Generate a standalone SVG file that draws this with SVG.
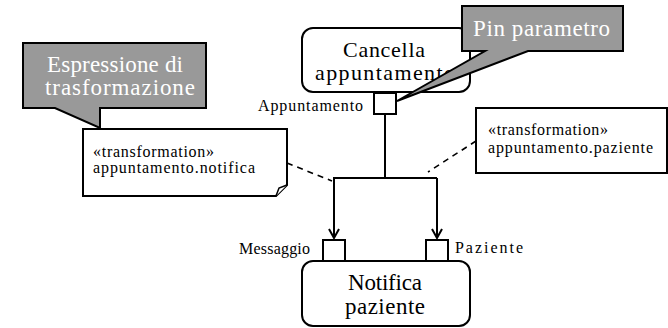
<svg xmlns="http://www.w3.org/2000/svg" width="668" height="328" viewBox="0 0 668 328">
  <defs>
    <style>
      .shape { fill: #ffffff; stroke: #000000; stroke-width: 2; }
      .callout { fill: #999999; stroke: #000000; stroke-width: 2; stroke-linejoin: miter; }
      .flow { fill: none; stroke: #000000; stroke-width: 2; }
      .dash { fill: none; stroke: #000000; stroke-width: 1.6; stroke-dasharray: 6 5; }
      text { font-family: "Liberation Serif", "DejaVu Serif", serif; }
      .big { font-size: 22px; fill: #000000; text-anchor: middle; }
      .callout-text { font-size: 23px; fill: #ffffff; }
      .note-text { font-size: 16px; fill: #000000; }
      .pin-label { font-size: 16px; fill: #000000; }
    </style>
    <marker id="open-arrow" markerWidth="12" markerHeight="12" refX="10" refY="6" orient="auto" markerUnits="userSpaceOnUse">
      <path d="M1,1 L10,6 L1,11" fill="none" stroke="#000000" stroke-width="2"/>
    </marker>
  </defs>

  <!-- action: Cancella appuntamento -->
  <g id="cancella-appuntamento">
    <rect class="shape" x="302" y="28" width="168" height="64" rx="11" ry="11"/>
    <text class="big" x="384" y="57" textLength="82" lengthAdjust="spacing">Cancella</text>
    <text class="big" x="385" y="80" textLength="140" lengthAdjust="spacing">appuntamento</text>
  </g>

  <!-- output pin of Cancella appuntamento -->
  <g id="pin-appuntamento">
    <rect class="shape" x="374" y="93" width="22" height="21"/>
    <text class="pin-label" x="258" y="111" textLength="105" lengthAdjust="spacing">Appuntamento</text>
  </g>

  <!-- action: Notifica paziente -->
  <g id="notifica-paziente">
    <rect class="shape" x="302" y="261" width="168" height="65" rx="11" ry="11"/>
    <text class="big" x="385" y="290" style="font-size:23px" textLength="74" lengthAdjust="spacing">Notifica</text>
    <text class="big" x="385" y="314" style="font-size:23px" textLength="80" lengthAdjust="spacing">paziente</text>
  </g>

  <!-- input pins of Notifica paziente -->
  <g id="pin-messaggio">
    <rect class="shape" x="323" y="240" width="22" height="21"/>
    <text class="pin-label" x="239" y="254" textLength="71" lengthAdjust="spacing">Messaggio</text>
  </g>
  <g id="pin-paziente">
    <rect class="shape" x="426" y="240" width="22" height="21"/>
    <text class="pin-label" x="455" y="253" textLength="68" lengthAdjust="spacing">Paziente</text>
  </g>

  <!-- transformation notes -->
  <g id="note-notifica">
    <path class="shape" d="M83,129 H287 V185 L276,196 H83 Z"/>
    <path class="shape" d="M276,196 L279,188 L287,185" style="stroke-width:1.5"/>
    <text class="note-text" x="93" y="157" textLength="121" lengthAdjust="spacing">«transformation»</text>
    <text class="note-text" x="93" y="173" textLength="162" lengthAdjust="spacing">appuntamento.notifica</text>
  </g>
  <g id="note-paziente">
    <rect class="shape" x="476" y="108" width="191" height="65"/>
    <text class="note-text" x="488" y="135" textLength="120" lengthAdjust="spacing">«transformation»</text>
    <text class="note-text" x="488" y="153" textLength="165" lengthAdjust="spacing">appuntamento.paziente</text>
  </g>

  <!-- object flows and note anchors -->
  <g id="connectors">
    <path class="flow" d="M385,114 V178"/>
    <path class="flow" d="M333,178 H437"/>
    <path class="flow" d="M334,178 V238" marker-end="url(#open-arrow)"/>
    <path class="flow" d="M437,178 V238" marker-end="url(#open-arrow)"/>
    <path class="dash" d="M287,163 L332,181"/>
    <path class="dash" d="M476,141 L428,172"/>
  </g>

  <!-- callouts -->
  <g id="callout-espressione">
    <path class="callout" d="M23,43 H206 V108 H100 V128 L55,108 H23 Z"/>
    <text class="callout-text" x="47" y="72" textLength="136" lengthAdjust="spacing">Espressione di</text>
    <text class="callout-text" x="45" y="95" textLength="150" lengthAdjust="spacing">trasformazione</text>
  </g>
  <g id="callout-pin">
    <path class="callout" d="M462,6 H623 V51 H528 L397,101 L485,51 H462 Z"/>
    <text class="callout-text" x="473" y="36" textLength="137" lengthAdjust="spacing">Pin parametro</text>
  </g>
</svg>
